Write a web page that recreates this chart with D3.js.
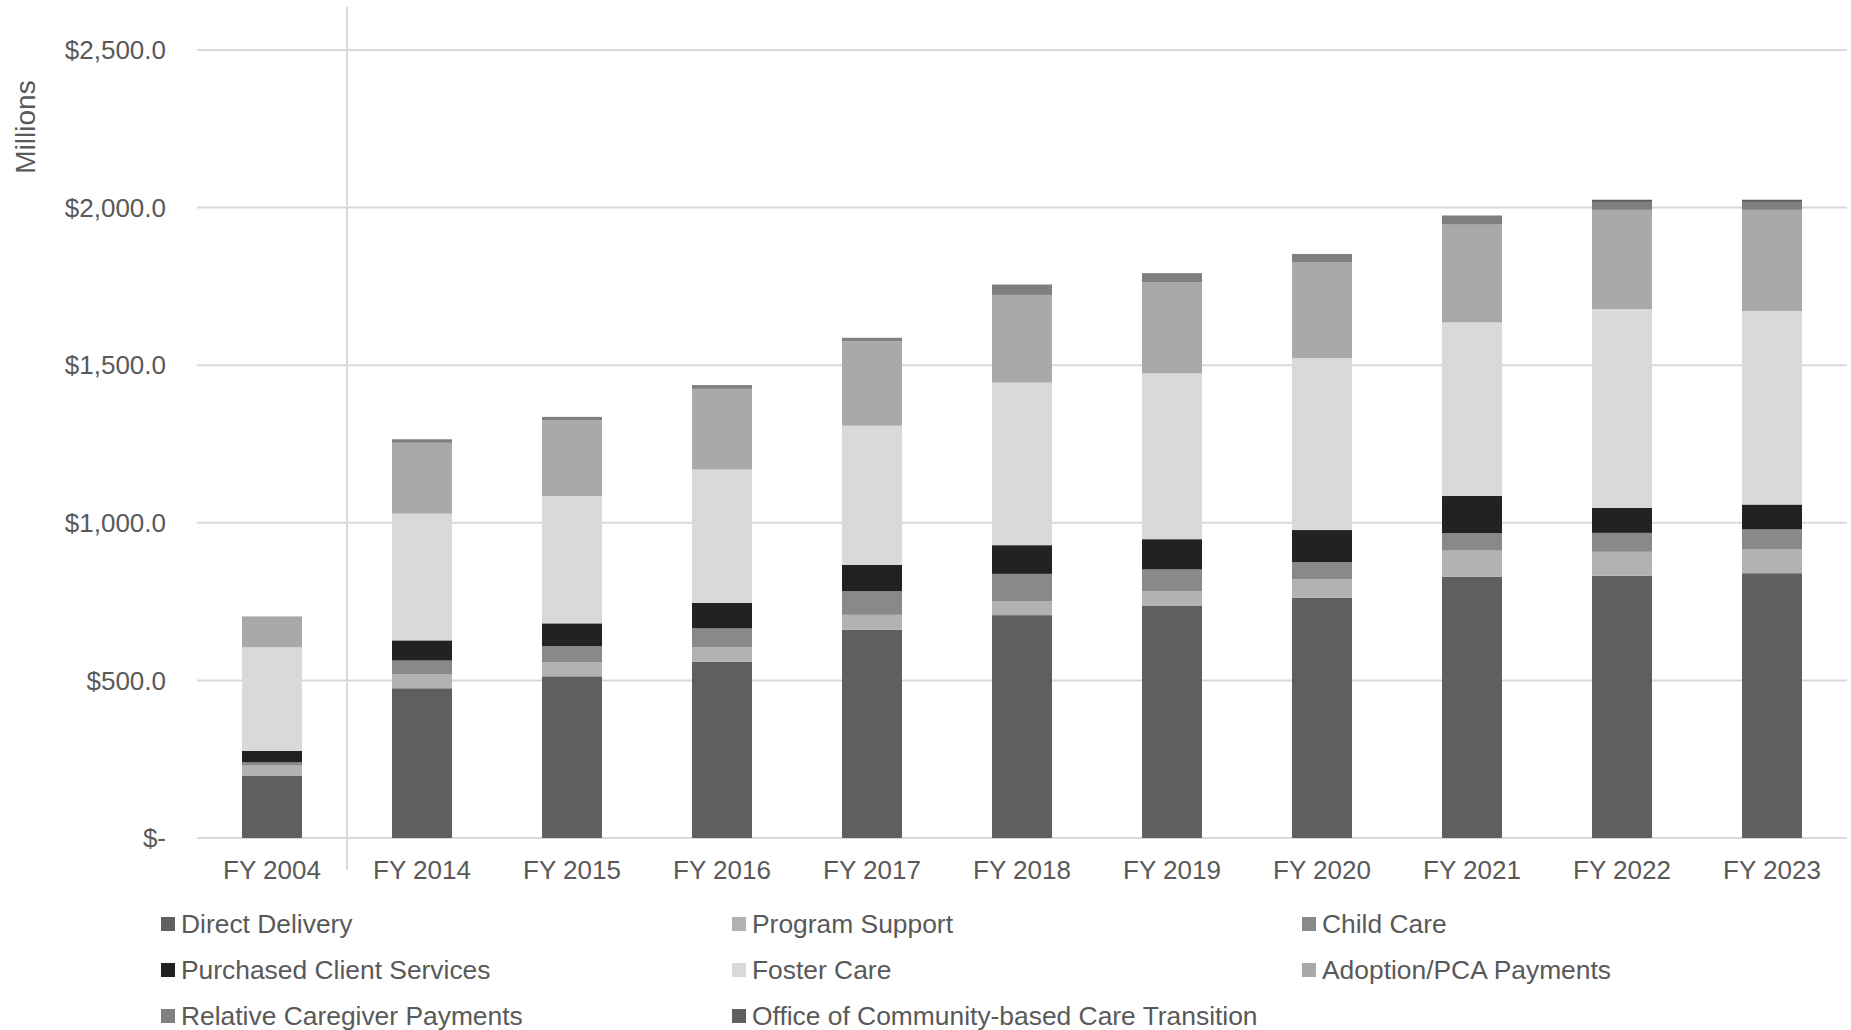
<!DOCTYPE html>
<meta charset="utf-8">
<title>Child welfare expenditures by category</title>
<style>
  body { margin: 0; background: #fff; }
  svg { display: block; font-family: "Liberation Sans", Arial, sans-serif; }
  .tick-label, .legend-label, .axis-title { fill: #595959; font-size: 26px; }
  .legend-label { font-size: 26.4px; }
  .axis-title { font-size: 28px; }
  .grid line { stroke: #d9d9d9; stroke-width: 2px; }
</style>
<body>
<script src="https://cdn.jsdelivr.net/npm/d3@7"></script>
<script>
  // categories along the x axis
  const years = ['FY 2004', 'FY 2014', 'FY 2015', 'FY 2016', 'FY 2017', 'FY 2018',
                 'FY 2019', 'FY 2020', 'FY 2021', 'FY 2022', 'FY 2023'];

  // series, bottom to top, $ millions
  const directDelivery     = [198, 475, 513, 559, 661, 707, 736, 762, 829, 832, 840];
  const programSupport     = [32, 44, 45, 47, 47, 44, 47, 59, 83, 76, 76];
  const childCare          = [10, 44, 51, 59, 75, 87, 69, 54, 55, 60, 63];
  const purchasedServices  = [36, 64, 72, 81, 84, 91, 96, 102, 118, 79, 79];
  const fosterCare         = [329, 402, 404, 423, 441, 516, 526, 546, 551, 631, 614];
  const adoptionPayments   = [98, 225, 241, 256, 268, 278, 289, 304, 310, 315, 321];
  const relativeCaregiver  = [0, 11, 10, 12, 11, 33, 29, 26, 29, 25, 25];
  const cbcTransition      = [0, 0, 0, 0, 0, 0, 0, 0, 0, 7, 7];

  const seriesNames = ['Direct Delivery', 'Program Support', 'Child Care',
    'Purchased Client Services', 'Foster Care', 'Adoption/PCA Payments',
    'Relative Caregiver Payments', 'Office of Community-based Care Transition'];
  const seriesColors = ['#5f5f5f', '#b2b2b2', '#898989', '#222222',
    '#d9d9d9', '#a9a9a9', '#7f7f7f', '#5f5f5f'];

  const yTicks = [0, 500, 1000, 1500, 2000, 2500];

  const allSeries = [directDelivery, programSupport, childCare, purchasedServices,
    fosterCare, adoptionPayments, relativeCaregiver, cbcTransition];

  const rows = years.map((y, i) => {
    const r = { year: y };
    seriesNames.forEach((n, k) => r[n] = allSeries[k][i]);
    return r;
  });

  const W = 1851, H = 1030;
  const plot = { left: 197, right: 1847, top: 50, bottom: 838 };

  const svg = d3.select('body').append('svg')
    .attr('width', W).attr('height', H);

  const x = d3.scaleBand()
    .domain(years)
    .range([plot.left, plot.right])
    .paddingInner(0.6)
    .paddingOuter(0.3);

  const y = d3.scaleLinear()
    .domain([0, 2500])
    .range([plot.bottom, plot.top]);

  // gridlines
  svg.append('g').attr('class', 'grid')
    .selectAll('line').data(yTicks).enter()
    .append('line')
      .attr('x1', plot.left).attr('x2', plot.right)
      .attr('y1', d => y(d)).attr('y2', d => y(d));

  // separator between FY 2004 and the rest
  const sepX = (x('FY 2004') + x.bandwidth() + x('FY 2014')) / 2;
  svg.append('line')
    .attr('x1', sepX).attr('x2', sepX)
    .attr('y1', 7).attr('y2', 870)
    .attr('stroke', '#d9d9d9').attr('stroke-width', 2);

  // y tick labels
  const fmt = d => d === 0 ? '$-' : '$' + d3.format(',.1f')(d);
  svg.append('g').selectAll('text').data(yTicks).enter()
    .append('text')
      .attr('class', 'tick-label')
      .attr('x', 166)
      .attr('y', d => y(d))
      .attr('dy', '0.35em')
      .attr('text-anchor', 'end')
      .text(fmt);

  svg.append('text')
    .attr('class', 'axis-title')
    .attr('transform', 'translate(35,127) rotate(-90)')
    .attr('text-anchor', 'middle')
    .text('Millions');

  // stacked bars
  const stack = d3.stack().keys(seriesNames)(rows);
  svg.append('g').selectAll('g').data(stack).enter()
    .append('g')
      .attr('fill', (d, i) => seriesColors[i])
    .selectAll('rect').data(d => d).enter()
    .append('rect')
      .attr('x', d => x(d.data.year))
      .attr('width', x.bandwidth())
      .attr('y', d => y(d[1]))
      .attr('height', d => y(d[0]) - y(d[1]));

  // x labels
  svg.append('g').selectAll('text').data(years).enter()
    .append('text')
      .attr('class', 'tick-label')
      .attr('x', d => x(d) + x.bandwidth() / 2)
      .attr('y', 879)
      .attr('text-anchor', 'middle')
      .text(d => d);

  // legend
  const legCols = [161, 732, 1302];
  const legRows = [924, 970, 1016];
  const leg = svg.append('g').selectAll('g').data(seriesNames).enter()
    .append('g')
      .attr('transform', (d, i) => `translate(${legCols[i % 3]},${legRows[Math.floor(i / 3)]})`);
  leg.append('rect')
    .attr('x', 0).attr('y', -7)
    .attr('width', 14).attr('height', 14)
    .attr('fill', (d, i) => seriesColors[i]);
  leg.append('text')
    .attr('class', 'legend-label')
    .attr('x', 20)
    .attr('dy', '0.35em')
    .text(d => d);
</script>
</body>
